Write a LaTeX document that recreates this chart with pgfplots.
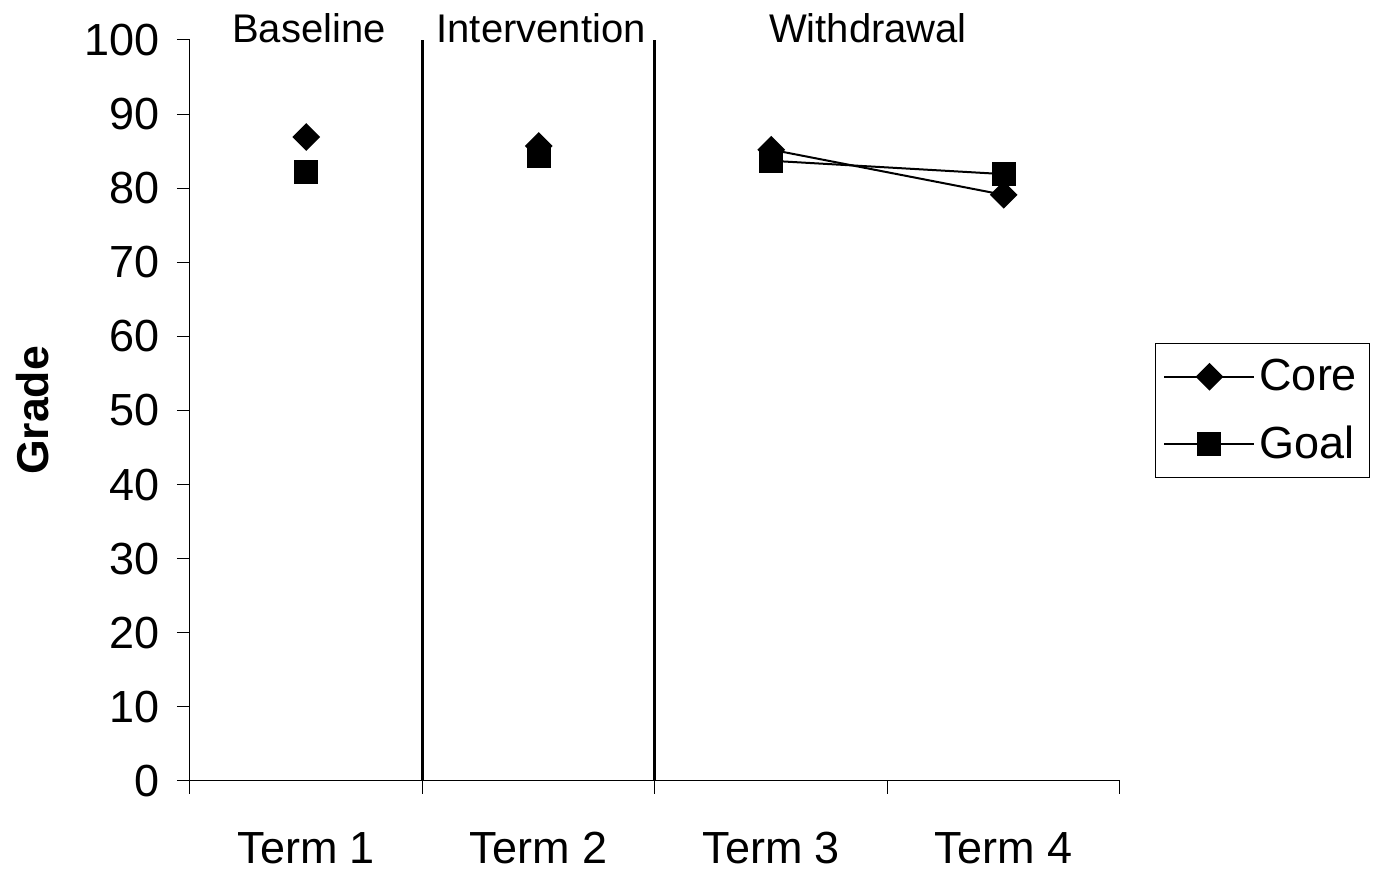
\documentclass[border=0pt]{standalone}
\usepackage{fontspec}
\setmainfont{Liberation Sans}
\usepackage{pgfplots}
\pgfplotsset{compat=1.18}
\begin{document}
\begin{tikzpicture}
\begin{axis}[
  name=ax,
  scale only axis,
  width=465pt, height=370.5pt,
  xmin=-0.5, xmax=3.5, ymin=0, ymax=100,
  axis lines*=left,
  axis line style={black, line width=0.5pt, -},
  clip=false,
  xtick={-0.5,0.5,1.5,2.5,3.5},
  x tick label as interval,
  xticklabels={Term 1,Term 2,Term 3,Term 4},
  ytick={0,10,...,100},
  tick align=outside,
  major tick length=6.5pt,
  tick style={black, line width=0.5pt},
  /pgf/number format/assume math mode=true,
  font=\fontsize{20}{24}\selectfont,
  ticklabel style={font=\fontsize{22.5}{26}\selectfont},
  xticklabel style={inner sep=0pt, yshift=-19pt},
  yticklabel style={xshift=-5pt},
  ylabel={\bfseries Grade},
  ylabel style={at={(axis description cs:-0.169,0.5)}, anchor=center, font=\fontsize{22.3}{26}\selectfont},
  unbounded coords=jump,
  legend style={draw=black, line width=0.5pt, at={(1,0.5)}, anchor=west, xshift=17.5pt,
    font=\fontsize{22.5}{26}\selectfont, row sep=12pt, inner xsep=4pt, inner ysep=6pt,
    legend cell align=left},
  legend image code/.code={\draw[mark repeat=2,mark phase=2] plot coordinates {(0pt,0pt)(22.5pt,0pt)(45pt,0pt)};},
]
\addplot[black, line width=1pt, mark=square*, mark size=4.4pt, mark options={rotate=45, fill=black, solid}]
  coordinates {(0,86.9) (0.5,nan) (1,85.7) (1.5,nan) (2,85.2) (3,79.1)};
\addlegendentry{Core}
\addplot[black, line width=1pt, mark=square*, mark size=5.5pt, mark options={fill=black, solid}]
  coordinates {(0,82.2) (0.5,nan) (1,84.3) (1.5,nan) (2,83.7) (3,81.9)};
\addlegendentry{Goal}
\addplot[black, line width=1.5pt, forget plot] coordinates {(0.5,0) (0.5,100)};
\addplot[black, line width=1.5pt, forget plot] coordinates {(1.5,0) (1.5,100)};
\node at (axis cs:0.012,101.6) {Baseline};
\node at (axis cs:1.01,101.6) {Intervention};
\node at (axis cs:2.416,101.6) {Withdrawal};
\end{axis}
\pgfresetboundingbox
\useasboundingbox (ax.south west) ++(-95pt,-45.5pt) rectangle ++(686.5pt,436pt);
\end{tikzpicture}
\end{document}
